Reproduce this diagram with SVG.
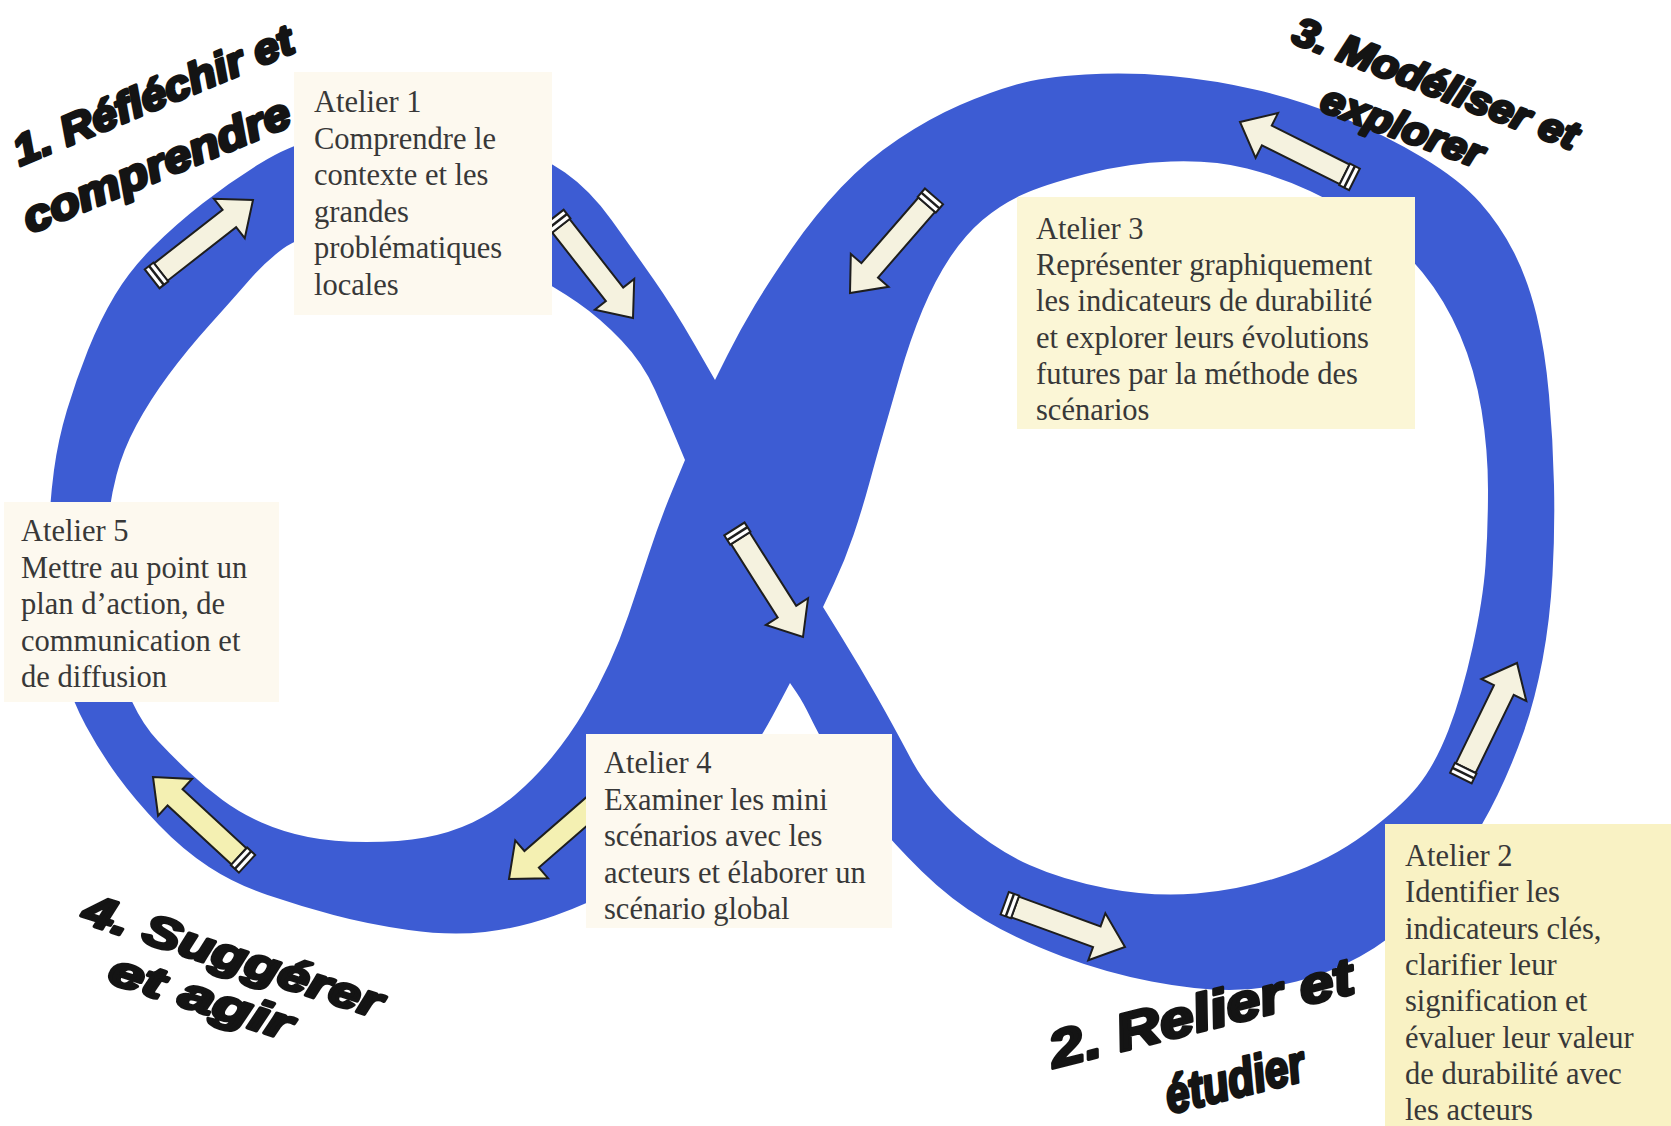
<svg xmlns="http://www.w3.org/2000/svg" xmlns:xlink="http://www.w3.org/1999/xlink" width="1671" height="1126" viewBox="0 0 1671 1126">
<style>
.band{fill:#3d5cd3;fill-rule:evenodd}
.box{fill:#fdf9ef}
.boxy{fill:#fbf6d6}
.boxy2{fill:#f9f2c4}
.t{font-family:"Liberation Serif","Times New Roman",serif;font-size:30.5px;fill:#383838}
.ph{font-family:"Liberation Sans",Arial,sans-serif;font-weight:bold;font-style:italic;fill:#141414;stroke:#141414;stroke-width:3.2;stroke-linejoin:round}
.ac{fill:#f5f2df;stroke:#1e1e1e;stroke-width:2;stroke-linejoin:miter}
.ay{fill:#f4f0b2;stroke:#1e1e1e;stroke-width:2;stroke-linejoin:miter}
</style>
<defs>
<g id="arrowTail">
<rect x="-128" y="-12" width="11" height="24" fill="#ffffff" stroke="#1e1e1e" stroke-width="2"/>
<line x1="-122.5" y1="-12" x2="-122.5" y2="12" stroke="#1e1e1e" stroke-width="2.5"/>
</g>
<path id="arrowBody" d="M-117,-11 L-30,-11 L-30,-25 L0,0 L-30,25 L-30,11 L-117,11 Z"/>
</defs>
<rect x="0" y="0" width="1671" height="1126" fill="#ffffff"/>
<g id="loop">
<path class="band" d="M715,380 L694,343.5 Q673,307 653,278.5 Q633,250 611.5,220 Q590,190 565,172.5 Q540,155 505,146.5 Q470,138 435,135.5 Q400,133 370,134 Q340,135 315,140 Q290,145 260,163.5 Q230,182 202.5,203.5 Q175,225 152.5,247.5 Q130,270 115,295 Q100,320 88,350 Q76,380 67,410 Q58,440 54,470 Q50,500 48.5,535 Q47,570 50.5,605 Q54,640 63,670 Q72,700 86,726 Q100,752 117.5,776 Q135,800 159,825 Q183,850 209,867 Q235,884 267.5,895 Q300,906 333.5,915 Q367,924 408.5,930 Q450,936 485,932 Q520,928 555,915.5 Q590,903 620,886.5 Q650,870 675,845 Q700,820 720,795 Q740,770 752.5,750 Q765,730 772.5,716 Q780,702 785,692.5 L790,683 L796.5,692.5 Q803,702 810.5,717.5 Q818,733 834,761.5 Q850,790 871.5,816.5 Q893,843 922,871.5 Q951,900 984.5,920 Q1018,940 1062.5,956.5 Q1107,973 1151.5,981.5 Q1196,990 1229.5,990 Q1263,990 1296.5,981.5 Q1330,973 1360,956.5 Q1390,940 1415,915 Q1440,890 1461.5,857.5 Q1483,825 1497.5,795 Q1512,765 1523.5,732.5 Q1535,700 1542.5,660 Q1550,620 1552.5,575 Q1555,530 1554,485 Q1553,440 1549,395 Q1545,350 1536.5,315 Q1528,280 1514,252.5 Q1500,225 1480,202.5 Q1460,180 1422.5,157.5 Q1385,135 1342.5,117.5 Q1300,100 1257,90 Q1214,80 1171,76 Q1128,72 1085.5,74.5 Q1043,77 1016.5,84.5 Q990,92 960,105 Q930,118 898.5,139 Q867,160 841,187.5 Q815,215 792.5,247.5 Q770,280 755,305 Q740,330 727.5,355 L715,380 Z M685,460 L676,438.5 Q667,417 655,390 Q643,363 621.5,340.5 Q600,318 577.5,302.5 Q555,287 527.5,272.5 Q500,258 465,248 Q430,238 395,234 Q360,230 330,233 Q300,236 282.5,249 Q265,262 248.5,281 Q232,300 209.5,325 Q187,350 168.5,375 Q150,400 136.5,425 Q123,450 116.5,475 Q110,500 107,530 Q104,560 106,590 Q108,620 115,650 Q122,680 132.5,702.5 Q143,725 158,741 Q173,757 189,772 Q205,787 222.5,800 Q240,813 261.5,822.5 Q283,832 308,837 Q333,842 366.5,842 Q400,842 425,837.5 Q450,833 472.5,822.5 Q495,812 515,795 Q535,778 552.5,756.5 Q570,735 584,711.5 Q598,688 609,664 Q620,640 628.5,615 Q637,590 648.5,555 Q660,520 672.5,490 L685,460 Z M823,607 L834,583.5 Q845,560 853.5,535 Q862,510 869.5,482.5 Q877,455 883.5,432.5 Q890,410 900,375 Q910,340 922.5,310 Q935,280 950,257.5 Q965,235 982.5,220 Q1000,205 1021.5,195 Q1043,185 1085.5,174 Q1128,163 1171,161.5 Q1214,160 1247,168.5 Q1280,177 1310,191 Q1340,205 1370,225 Q1400,245 1422.5,272.5 Q1445,300 1460,335 Q1475,370 1481.5,410 Q1488,450 1488,490 Q1488,530 1485.5,565 Q1483,600 1472.5,647.5 Q1462,695 1448.5,730 Q1435,765 1417.5,786.5 Q1400,808 1365,834 Q1330,860 1285.5,875 Q1241,890 1196.5,893.5 Q1152,897 1107.5,888.5 Q1063,880 1029.5,865 Q996,850 962.5,821.5 Q929,793 911,759 Q893,725 876.5,696 Q860,667 841.5,637 L823,607 Z"/>
</g>
<g id="connectors">
<g transform="translate(253,200) rotate(-38)"><use xlink:href="#arrowBody" class="ac"/><use xlink:href="#arrowTail"/></g>
<g transform="translate(633,318) rotate(52)"><use xlink:href="#arrowBody" class="ac"/><use xlink:href="#arrowTail"/></g>
<g transform="translate(850,293) rotate(131)"><use xlink:href="#arrowBody" class="ac"/><use xlink:href="#arrowTail"/></g>
<g transform="translate(1240,122) rotate(206.6)"><use xlink:href="#arrowBody" class="ac"/><use xlink:href="#arrowTail"/></g>
<g transform="translate(803,637) rotate(57.6)"><use xlink:href="#arrowBody" class="ac"/><use xlink:href="#arrowTail"/></g>
<g transform="translate(1517,663) rotate(-64)"><use xlink:href="#arrowBody" class="ac"/><use xlink:href="#arrowTail"/></g>
<g transform="translate(1125,947) rotate(20)"><use xlink:href="#arrowBody" class="ac"/><use xlink:href="#arrowTail"/></g>
<g transform="translate(509,879) rotate(139)"><use xlink:href="#arrowBody" class="ay"/><use xlink:href="#arrowTail"/></g>
<g transform="translate(153,777) rotate(222.7)"><use xlink:href="#arrowBody" class="ay"/><use xlink:href="#arrowTail"/></g>
</g>
<g id="atelier1">
<rect class="box" x="294" y="72" width="258" height="243"/>
<text class="t" x="314" y="112">Atelier 1</text>
<text class="t" x="314" y="148.6">Comprendre le</text>
<text class="t" x="314" y="185.2">contexte et les</text>
<text class="t" x="314" y="221.8">grandes</text>
<text class="t" x="314" y="258.4">problématiques</text>
<text class="t" x="314" y="295">locales</text>
</g>
<g id="atelier3">
<rect class="boxy" x="1017" y="197" width="398" height="232"/>
<text class="t" x="1036" y="239">Atelier 3</text>
<text class="t" x="1036" y="275.2">Représenter graphiquement</text>
<text class="t" x="1036" y="311.4">les indicateurs de durabilité</text>
<text class="t" x="1036" y="347.6">et explorer leurs évolutions</text>
<text class="t" x="1036" y="383.8">futures par la méthode des</text>
<text class="t" x="1036" y="420">scénarios</text>
</g>
<g id="atelier5">
<rect class="box" x="4" y="502" width="275" height="200"/>
<text class="t" x="21" y="541">Atelier 5</text>
<text class="t" x="21" y="577.5">Mettre au point un</text>
<text class="t" x="21" y="614">plan d’action, de</text>
<text class="t" x="21" y="650.5">communication et</text>
<text class="t" x="21" y="687">de diffusion</text>
</g>
<g id="atelier4">
<rect class="box" x="586" y="734" width="306" height="194"/>
<text class="t" x="604" y="773">Atelier 4</text>
<text class="t" x="604" y="809.5">Examiner les mini</text>
<text class="t" x="604" y="846">scénarios avec les</text>
<text class="t" x="604" y="882.5">acteurs et élaborer un</text>
<text class="t" x="604" y="919">scénario global</text>
</g>
<g id="atelier2">
<rect class="boxy2" x="1385" y="824" width="286" height="302"/>
<text class="t" x="1405" y="866">Atelier 2</text>
<text class="t" x="1405" y="902.3">Identifier les</text>
<text class="t" x="1405" y="938.6">indicateurs clés,</text>
<text class="t" x="1405" y="975">clarifier leur</text>
<text class="t" x="1405" y="1011.2">signification et</text>
<text class="t" x="1405" y="1047.5">évaluer leur valeur</text>
<text class="t" x="1405" y="1083.8">de durabilité avec</text>
<text class="t" x="1405" y="1120">les acteurs</text>
</g>
<g id="phase1">
<text class="ph" font-size="42" transform="translate(20,166) rotate(-22.5)" textLength="300" lengthAdjust="spacingAndGlyphs">1. Réfléchir et</text>
<text class="ph" font-size="44" transform="translate(30,234) rotate(-22.5)" textLength="286" lengthAdjust="spacingAndGlyphs">comprendre</text>
</g>
<g id="phase3">
<text class="ph" font-size="40" transform="translate(1290,42) rotate(21)" textLength="302" lengthAdjust="spacingAndGlyphs">3. Modéliser et</text>
<text class="ph" font-size="40" transform="translate(1318,110) rotate(20)" textLength="170" lengthAdjust="spacingAndGlyphs">explorer</text>
</g>
<g id="phase2">
<text class="ph" font-size="52" transform="translate(1054,1068) rotate(-14)" textLength="312" lengthAdjust="spacingAndGlyphs">2. Relier et</text>
<text class="ph" font-size="52" transform="translate(1170,1114) rotate(-14)" textLength="142" lengthAdjust="spacingAndGlyphs">étudier</text>
</g>
<g id="phase4">
<text class="ph" font-size="44" transform="translate(80,922) rotate(18)" textLength="312" lengthAdjust="spacingAndGlyphs">4. Suggérer</text>
<text class="ph" font-size="44" transform="translate(106,982) rotate(18)" textLength="190" lengthAdjust="spacingAndGlyphs">et agir</text>
</g>
</svg>
